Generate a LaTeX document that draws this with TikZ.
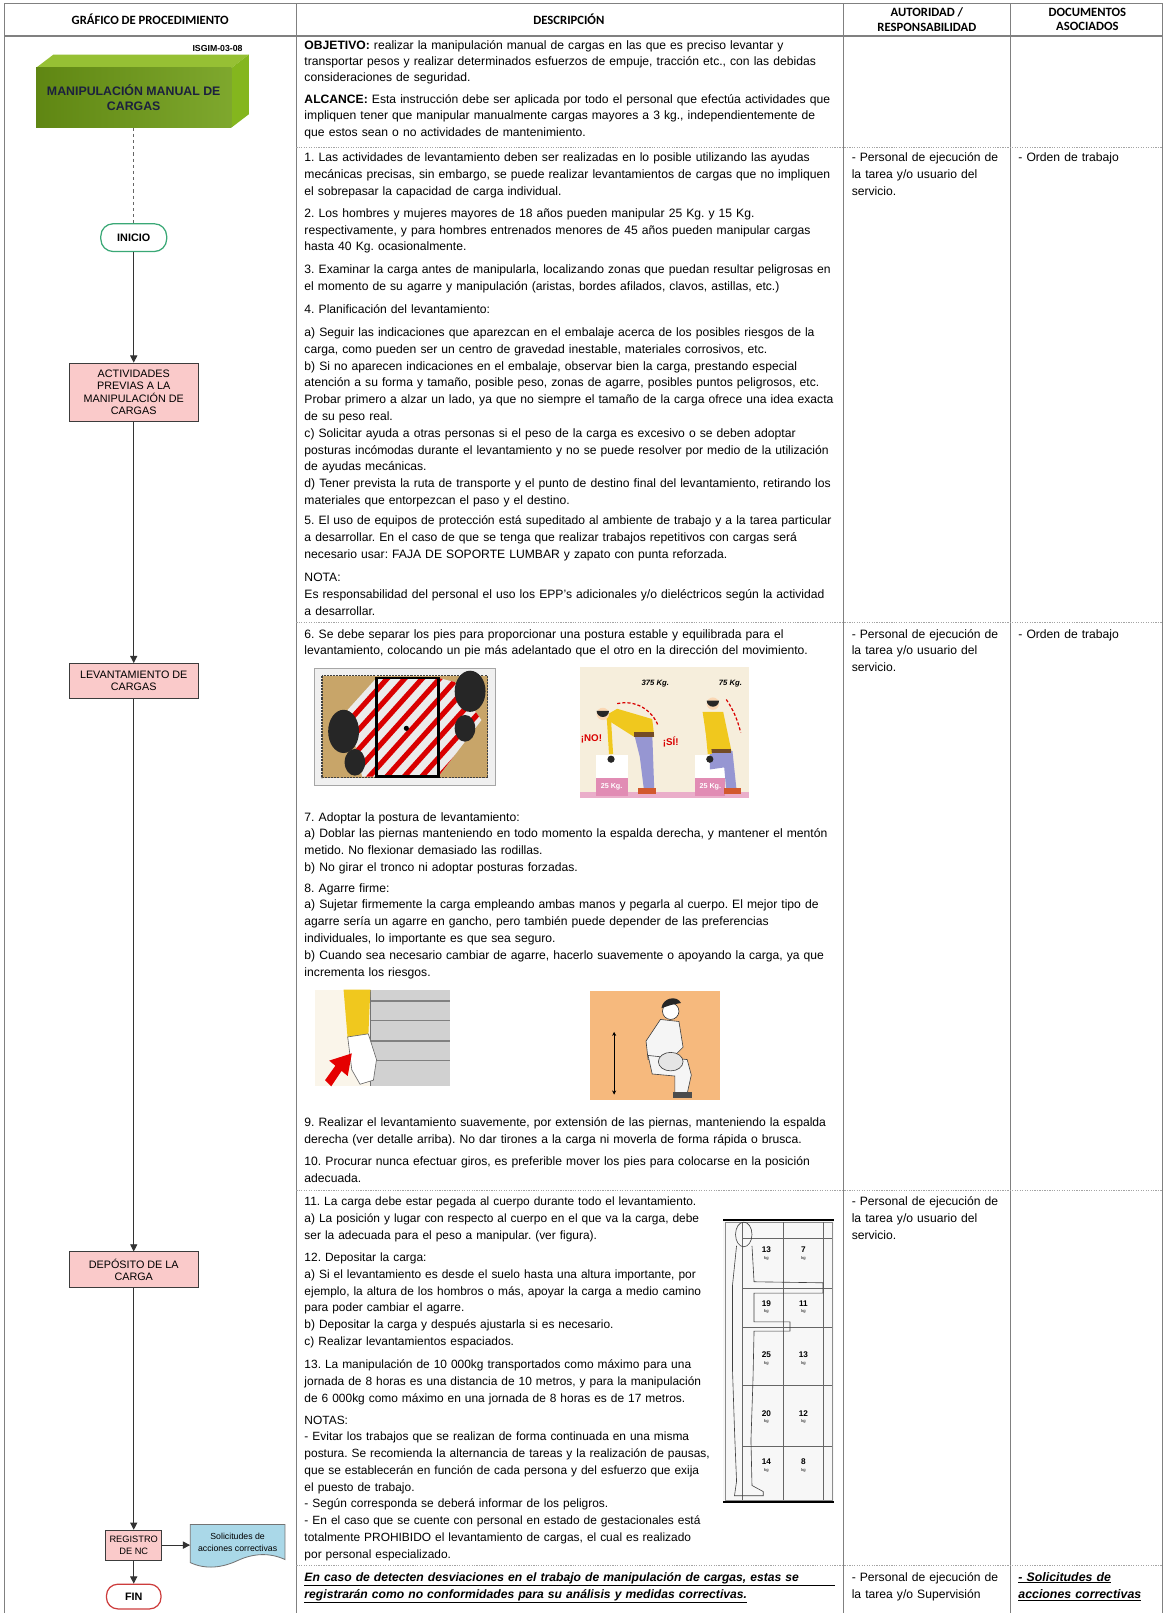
\documentclass[tikz,border=0pt]{standalone}
\usepackage{fontspec}
\setmainfont{Liberation Sans}
\newfontfamily\hdrfont{Carlito}
\usetikzlibrary{arrows.meta}
\definecolor{tblc}{RGB}{128,128,128}
\definecolor{sepc}{RGB}{165,165,165}
\definecolor{pinkf}{RGB}{250,202,202}
\definecolor{boxd}{RGB}{60,60,60}
\definecolor{gfront}{RGB}{112,158,22}
\definecolor{gtop}{RGB}{150,192,52}
\definecolor{gside}{RGB}{132,182,30}
\definecolor{navy}{RGB}{28,32,62}
\definecolor{inig}{RGB}{58,168,118}
\definecolor{finr}{RGB}{205,60,60}
\definecolor{docb}{RGB}{170,216,232}
\definecolor{tanc}{RGB}{200,165,105}
\definecolor{creamc}{RGB}{246,238,220}
\definecolor{shirt}{RGB}{240,200,30}
\definecolor{pants}{RGB}{150,150,210}
\definecolor{kgpink}{RGB}{225,140,180}
\definecolor{peach}{RGB}{246,185,125}
\definecolor{skin}{RGB}{250,215,180}
\newcommand\bodyf{\fontsize{11.8}{16.3}\selectfont\frenchspacing}
\newcommand\narrf{\fontsize{11.6}{16.3}\selectfont\frenchspacing}
\newcommand\JL[1]{\par\noindent\hbox to\hsize{\rule{0pt}{11pt}#1}\par}
\newcommand\RL[1]{\par\noindent\hbox{\rule{0pt}{11pt}#1}\par}
\newcommand\UL[1]{\par\noindent\hbox{\rule{0pt}{11pt}$\underline{\hbox{#1}}$}\par}
\newcommand\UJL[1]{\par\noindent\hbox{\rule{0pt}{11pt}$\underline{\hbox to\hsize{#1}}$}\par}
\begin{document}
\frenchspacing
\begin{tikzpicture}[x=1pt,y=-1pt,
  tbl/.style={draw=tblc, line width=1pt},
  rowsep/.style={draw=sepc, line width=0.8pt, dash pattern=on 1.2pt off 1.2pt},
  txt/.style={anchor=north west, inner sep=0pt, outer sep=0pt, font=\bodyf, text width=516pt},
  txtn/.style={txt, font=\narrf, text width=396pt},
  side/.style={txt, text width=150pt},
  hdr/.style={font=\hdrfont\bfseries\fontsize{12.3}{14}\selectfont, align=center, inner sep=0pt},
  proc/.style={draw=boxd, fill=pinkf, line width=0.9pt, align=center, font=\fontsize{10.5}{12}\selectfont, inner sep=0pt},
  term/.style={rounded corners=12pt, draw, line width=1.2pt, fill=white, font=\bfseries\fontsize{10.5}{12}\selectfont, inner sep=0pt},
  arr/.style={draw=black!80, line width=0.9pt, -{Triangle[length=7pt,width=7pt]}},
  pic/.style={inner sep=0pt}]
\useasboundingbox (0,0) rectangle (1133,1568);
\fill[white] (0,0) rectangle (1133,1568);

% ---------------- table frame
\draw[tbl] (4,1575) -- (4,3) -- (1130,3) -- (1130,1575);
\draw[tbl] (4,35) -- (1130,35);
\draw[tbl] (288,3) -- (288,1575);
\draw[tbl] (820,3) -- (820,1575);
\draw[tbl] (982,3) -- (982,1575);
\draw[rowsep] (288,143) -- (1130,143);
\draw[rowsep] (288,605) -- (1130,605);
\draw[rowsep] (288,1157) -- (1130,1157);
\draw[rowsep] (288,1522) -- (1130,1522);

% headers
\node[hdr] (h1) at (146,19) {GRÁFICO DE PROCEDIMIENTO};
\node[hdr] (h2) at (553,19) {DESCRIPCIÓN};
\node[hdr] (h3) at (901,19) {AUTORIDAD /\\RESPONSABILIDAD};
\node[hdr] (h4) at (1057,19) {DOCUMENTOS\\ASOCIADOS};

\begin{scope}[yshift=4pt]
% ---------------- description texts
\node[txt, font=\fontsize{11.8}{15.7}\selectfont] (t0a) at (296,36) {\JL{\textbf{OBJETIVO:} realizar la manipulación manual de cargas en las que es preciso levantar y}\JL{transportar pesos y realizar determinados esfuerzos de empuje, tracción etc., con las debidas}\RL{consideraciones de seguridad.}};
\node[txt] (t0b) at (296,88) {\JL{\textbf{ALCANCE:} Esta instrucción debe ser aplicada por todo el personal que efectúa actividades que}\JL{impliquen tener que manipular manualmente cargas mayores a 3 kg., independientemente de}\RL{que estos sean o no actividades de mantenimiento.}};

\node[txt] (t1) at (296,145) {\JL{1. Las actividades de levantamiento deben ser realizadas en lo posible utilizando las ayudas}\JL{mecánicas precisas, sin embargo, se puede realizar levantamientos de cargas que no impliquen}\RL{el sobrepasar la capacidad de carga individual.}};
\node[txt] (t2) at (296,199) {\JL{2. Los hombres y mujeres mayores de 18 años pueden manipular 25 Kg. y 15 Kg.}\JL{respectivamente, y para hombres entrenados menores de 45 años pueden manipular cargas}\RL{hasta 40 Kg. ocasionalmente.}};
\node[txt] (t3) at (296,254) {\JL{3. Examinar la carga antes de manipularla, localizando zonas que puedan resultar peligrosas en}\RL{el momento de su agarre y manipulación (aristas, bordes afilados, clavos, astillas, etc.)}};
\node[txt] (t4) at (296,292) {\RL{4. Planificación del levantamiento:}};
\node[txt] (t4a) at (296,315) {\JL{a) Seguir las indicaciones que aparezcan en el embalaje acerca de los posibles riesgos de la}\RL{carga, como pueden ser un centro de gravedad inestable, materiales corrosivos, etc.}\JL{b) Si no aparecen indicaciones en el embalaje, observar bien la carga, prestando especial}\JL{atención a su forma y tamaño, posible peso, zonas de agarre, posibles puntos peligrosos, etc.}\JL{Probar primero a alzar un lado, ya que no siempre el tamaño de la carga ofrece una idea exacta}\RL{de su peso real.}\JL{c) Solicitar ayuda a otras personas si el peso de la carga es excesivo o se deben adoptar}\JL{posturas incómodas durante el levantamiento y no se puede resolver por medio de la utilización}\RL{de ayudas mecánicas.}\JL{d) Tener prevista la ruta de transporte y el punto de destino final del levantamiento, retirando los}\RL{materiales que entorpezcan el paso y el destino.}};
\node[txt] (t5) at (296,498) {\JL{5. El uso de equipos de protección está supeditado al ambiente de trabajo y a la tarea particular}\JL{a desarrollar. En el caso de que se tenga que realizar trabajos repetitivos con cargas será}\RL{necesario usar: FAJA DE SOPORTE LUMBAR y zapato con punta reforzada.}};
\node[txt] (tn) at (296,553) {\RL{NOTA:}\JL{Es responsabilidad del personal el uso los EPP's adicionales y/o dieléctricos según la actividad}\RL{a desarrollar.}};

\node[txt] (t6) at (296,608) {\RL{6. Se debe separar los pies para proporcionar una postura estable y equilibrada para el}\RL{levantamiento, colocando un pie más adelantado que el otro en la dirección del movimiento.}};
\node[txt] (t7) at (296,786) {\RL{7. Adoptar la postura de levantamiento:}\RL{a) Doblar las piernas manteniendo en todo momento la espalda derecha, y mantener el mentón}\RL{metido. No flexionar demasiado las rodillas.}\RL{b) No girar el tronco ni adoptar posturas forzadas.}};
\node[txt] (t8) at (296,855) {\RL{8. Agarre firme:}\RL{a) Sujetar firmemente la carga empleando ambas manos y pegarla al cuerpo. El mejor tipo de}\RL{agarre sería un agarre en gancho, pero también puede depender de las preferencias}\RL{individuales, lo importante es que sea seguro.}\RL{b) Cuando sea necesario cambiar de agarre, hacerlo suavemente o apoyando la carga, ya que}\RL{incrementa los riesgos.}};
\node[txt] (t9) at (296,1083) {\RL{9. Realizar el levantamiento suavemente, por extensión de las piernas, manteniendo la espalda}\RL{derecha (ver detalle arriba). No dar tirones a la carga ni moverla de forma rápida o brusca.}};
\node[txt] (t10) at (296,1121) {\RL{10. Procurar nunca efectuar giros, es preferible mover los pies para colocarse en la posición}\RL{adecuada.}};

\node[txtn] (t11) at (296,1160) {\RL{11. La carga debe estar pegada al cuerpo durante todo el levantamiento.}\JL{a) La posición y lugar con respecto al cuerpo en el que va la carga, debe}\RL{ser la adecuada para el peso a manipular. (ver figura).}};
\node[txtn] (t12) at (296,1214) {\RL{12. Depositar la carga:}\JL{a) Si el levantamiento es desde el suelo hasta una altura importante, por}\JL{ejemplo, la altura de los hombros o más, apoyar la carga a medio camino}\RL{para poder cambiar el agarre.}\RL{b) Depositar la carga y después ajustarla si es necesario.}\RL{c) Realizar levantamientos espaciados.}};
\node[txtn] (t13) at (296,1318) {\JL{13. La manipulación de 10 000kg transportados como máximo para una}\JL{jornada de 8 horas es una distancia de 10 metros, y para la manipulación}\RL{de 6 000kg como máximo en una jornada de 8 horas es de 17 metros.}};
\node[txtn] (tns) at (296,1372) {\RL{NOTAS:}\JL{- Evitar los trabajos que se realizan de forma continuada en una misma}\JL{postura. Se recomienda la alternancia de tareas y la realización de pausas,}\JL{que se establecerán en función de cada persona y del esfuerzo que exija}\RL{el puesto de trabajo.}\RL{- Según corresponda se deberá informar de los peligros.}\JL{- En el caso que se cuente con personal en estado de gestacionales está}\JL{totalmente PROHIBIDO el levantamiento de cargas, el cual es realizado}\RL{por personal especializado.}};

\node[txt, font=\fontsize{11.8}{17}\selectfont] (tb) at (296,1524) {\UJL{\bfseries\itshape En caso de detecten desviaciones en el trabajo de manipulación de cargas, estas se}\UL{\bfseries\itshape registrarán como no conformidades para su análisis y medidas correctivas.}};

% authority / documents
\node[side] (a1) at (828,145) {\RL{- Personal de ejecución de}\RL{la tarea y/o usuario del}\RL{servicio.}};
\node[side] (a2) at (828,608) {\RL{- Personal de ejecución de}\RL{la tarea y/o usuario del}\RL{servicio.}};
\node[side] (a3) at (828,1160) {\RL{- Personal de ejecución de}\RL{la tarea y/o usuario del}\RL{servicio.}};
\node[side, font=\fontsize{11.8}{17}\selectfont] (a4) at (828,1524) {\RL{- Personal de ejecución de}\RL{la tarea y/o Supervisión}};
\node[side] (d1) at (990,145) {\RL{- Orden de trabajo}};
\node[side] (d2) at (990,608) {\RL{- Orden de trabajo}};
\node[side, font=\fontsize{12}{17}\selectfont] (d3) at (990,1524) {\UL{\bfseries\itshape - Solicitudes de}\UL{\bfseries\itshape acciones correctivas}};
\end{scope}

% ---------------- flowchart
\node[anchor=east, inner sep=0pt, font=\bfseries\fontsize{8.5}{10}\selectfont] (code) at (236,47) {ISGIM-03-08};
\fill[gtop] (35,66) -- (52,53) -- (242,53) -- (225,66) -- cycle;
\fill[gside] (225,66) -- (242,53) -- (242,111) -- (225,124) -- cycle;
\shade[left color=gfront!85!black, right color=gfront!90!white] (35,66) rectangle (225,124);
\node[inner sep=0pt, minimum width=190pt, minimum height=58pt, align=center, text=navy, font=\bfseries\fontsize{12}{14}\selectfont] (gbox) at (130,95) {MANIPULACIÓN MANUAL DE\\CARGAS};

\node[term, draw=inig, minimum width=64pt, minimum height=27pt] (ini) at (130,231) {INICIO};
\node[proc, minimum width=125pt, minimum height=57pt] (act) at (130,381.5) {ACTIVIDADES\\PREVIAS A LA\\MANIPULACIÓN DE\\CARGAS};
\node[proc, minimum width=125pt, minimum height=34pt] (lev) at (130,662) {LEVANTAMIENTO DE\\CARGAS};
\node[proc, minimum width=125pt, minimum height=35pt] (dep) at (130,1234.5) {DEPÓSITO DE LA\\CARGA};
\node[proc, minimum width=54pt, minimum height=29pt, font=\fontsize{9}{11.5}\selectfont] (reg) at (130,1502) {REGISTRO\\DE NC};
\node[term, draw=finr, rounded corners=11pt, minimum width=53pt, minimum height=24pt] (fin) at (130,1552) {FIN};

\filldraw[fill=docb, draw=black!55, line width=0.8pt] (185,1482) -- (277,1482) -- (277,1516) .. controls (262,1509) and (246,1510) .. (231,1517) .. controls (216,1524) and (200,1526) .. (185,1519) -- cycle;
\node[inner sep=0pt, minimum width=92pt, minimum height=30pt, align=center, font=\fontsize{8.5}{11.5}\selectfont] (sol) at (231,1499) {Solicitudes de\\acciones correctivas};

\draw[draw=black!60, line width=0.9pt, dash pattern=on 3pt off 3pt] (gbox.south) -- (ini.north);
\draw[arr] (ini) -- (act);
\draw[arr] (act) -- (lev);
\draw[arr] (lev) -- (dep);
\draw[arr] (dep) -- (reg);
\draw[arr] (reg) -- (fin);
\draw[arr] (reg.east) -- (reg.east -| sol.west);

% ---------------- image A: feet
\fill[black!6] (306,650) rectangle (481,763);
\draw[black!35, line width=0.6pt] (306,650) rectangle (481,763);
\fill[tanc] (313,657) rectangle (474,756);
\draw[black!75, dash pattern=on 2pt off 1pt, line width=1pt] (313,657) rectangle (474,756);
\begin{scope}
\clip (338,690) -- (366,659) -- (426,659) -- (442,663) -- (468,700) -- (426,755) -- (366,755) -- (352,755) -- cycle;
\fill[black!8] (330,655) rectangle (470,760);
\foreach \k in {0,...,13} \draw[red!85!black, line width=5pt] (230+\k*17,785) -- (360+\k*17,640);
\end{scope}
\draw[black, line width=2.5pt] (366,659) rectangle (426,755);
\fill[black] (395,708) circle (2.5);
\fill[black!85] (334,711) ellipse (15 and 21);
\fill[black!85] (345,741) ellipse (10 and 13);
\fill[black!85] (457,672) ellipse (15 and 20);
\fill[black!85] (452,708) ellipse (10 and 13);

% ---------------- image B: NO / SI
\fill[creamc] (564,648) rectangle (728,776);
\fill[kgpink!70] (564,770) rectangle (728,776);
\node[pic, font=\bfseries\itshape\fontsize{7.5}{8}\selectfont] (k375) at (637,665) {375 Kg.};
\node[pic, font=\bfseries\itshape\fontsize{7.5}{8}\selectfont] (k75) at (710,665) {75 Kg.};
\node[pic, text=red!85!black, font=\bfseries\fontsize{9.5}{10}\selectfont] (no) at (575,718) {¡NO!};
\node[pic, text=red!85!black, font=\bfseries\fontsize{9.5}{10}\selectfont] (si) at (652,721) {¡SÍ!};
% left box and figure
\fill[white] (579,734) rectangle (610,774);
\fill[kgpink] (579,756) rectangle (610,774);
\node[pic, text=white, font=\bfseries\fontsize{7}{8}\selectfont] (kg1) at (594.5,765) {25 Kg.};
\fill[pants] (616,712) -- (634,712) -- (636,768) -- (626,768) -- (622,736) -- cycle;
\fill[brown!70!red] (620,766) rectangle (638,772);
\fill[shirt] (586,697) -- (600,689) -- (634,699) -- (636,716) -- (616,716) -- cycle;
\fill[brown!60!black] (616,712) rectangle (636,716);
\draw[shirt, line width=4pt] (592,700) -- (594,733);
\fill[black!85] (594,738) circle (3.5);
\fill[skin] (586,694) circle (6);
\fill[black!85] (580,691) arc (180:360:6 and -6) -- cycle;
\draw[red!85!black, dash pattern=on 3pt off 2pt, line width=1.2pt] (600,684) .. controls (618,680) and (634,690) .. (640,706);
% right box and figure
\fill[white] (676,734) rectangle (705,774);
\fill[kgpink] (676,756) rectangle (705,774);
\node[pic, text=white, font=\bfseries\fontsize{7}{8}\selectfont] (kg2) at (690.5,765) {25 Kg.};
\fill[pants] (690,728) -- (712,730) -- (716,768) -- (706,768) -- (704,746) -- (690,748) -- cycle;
\fill[brown!70!red] (704,766) rectangle (720,772);
\fill[shirt] (683,692) -- (703,692) -- (711,730) -- (689,732) -- cycle;
\fill[brown!60!black] (690,728) rectangle (711,732);
\draw[shirt, line width=4pt] (687,700) -- (690,733);
\fill[black!85] (690,738) circle (3.5);
\fill[skin] (693,684) circle (6);
\fill[black!85] (687,681) arc (180:360:6 and -6) -- cycle;
\draw[red!85!black, dash pattern=on 3pt off 2pt, line width=1.2pt] (706,680) .. controls (713,690) and (717,700) .. (720,712);

% ---------------- image C: hand
\fill[creamc!60!white] (306,962) rectangle (437,1056);
\fill[black!18] (360,962) rectangle (437,1056);
\foreach \yy in {973,992,1012,1031} \draw[black!50, line width=1.5pt] (360,\yy) -- (437,\yy);
\draw[black!55, line width=0.8pt] (360,962) -- (360,1056);
\fill[shirt] (334,962) -- (360,962) -- (358,1008) -- (338,1010) -- cycle;
\filldraw[fill=white, draw=black!60, line width=0.6pt] (338,1008) -- (358,1005) -- (366,1030) -- (363,1050) -- (350,1054) -- (342,1040) -- cycle;
\fill[red!90!black] (316,1050) -- (326,1036) -- (320,1031) -- (342,1024) -- (338,1046) -- (332,1041) -- (322,1056) -- cycle;

% ---------------- image D: squat
\fill[peach] (574,963) rectangle (700,1069);
\draw[black, line width=0.9pt, {Stealth[length=4pt,width=4pt]}-{Stealth[length=4pt,width=4pt]}] (597,1003) -- (597,1064);
\filldraw[fill=white, draw=black!80, line width=0.6pt] (652,983) circle (8);
\fill[black!85] (643,980) .. controls (644,970) and (658,967) .. (662,975) -- (652,977) -- cycle;
\filldraw[fill=black!4, draw=black!75, line width=0.6pt] (642,991) -- (660,993) -- (664,1018) -- (652,1030) -- (630,1030) -- (628,1012) -- cycle;
\filldraw[fill=black!4, draw=black!75, line width=0.6pt] (630,1026) -- (668,1030) -- (672,1045) -- (668,1063) -- (656,1063) -- (656,1046) -- (634,1044) -- cycle;
\filldraw[fill=black!10, draw=black!75, line width=0.6pt] (652,1032) ellipse (12 and 9);
\fill[black!70] (654,1062) rectangle (673,1067);

% ---------------- image E: body chart
\fill[black!3] (703,1186) rectangle (811,1460);
\draw[black!45, line width=0.5pt] (705,1188) rectangle (809,1458);
\draw[black, line width=1.2pt] (703,1186) -- (811,1186);
\draw[black, line width=1.2pt] (703,1460) -- (811,1460);
\foreach \xx in {722,761,800} \draw[black!60, line width=0.6pt] (\xx,1188) -- (\xx,1458);
\foreach \yy in {1204,1252,1290,1347,1406} \draw[black!60, line width=0.6pt] (722,\yy) -- (809,\yy);
\begin{scope}[black!75, line width=0.6pt]
\draw (723,1200) ellipse (8 and 12);
\draw (716,1211) -- (712,1250) -- (712,1330) -- (714,1390) -- (716,1440) -- (714,1454) -- (742,1454) -- (742,1450) -- (731,1444) -- (730,1400) -- (732,1340) -- (733,1294) -- (768,1294) -- (768,1285) -- (733,1285) -- (733,1257) -- (800,1257) -- (800,1247) -- (733,1246) -- (731,1211);
\end{scope}
\foreach \yy/\a/\b in {1215/13/7,1267/19/11,1317/25/13,1374/20/12,1421/14/8} {
  \node[pic, font=\bfseries\fontsize{8}{9}\selectfont] at (745,\yy) {\a};
  \node[pic, font=\bfseries\fontsize{8}{9}\selectfont] at (781,\yy) {\b};
  \node[pic, font=\fontsize{4}{5}\selectfont] at (745,\yy+8) {kg};
  \node[pic, font=\fontsize{4}{5}\selectfont] at (781,\yy+8) {kg};
}
\end{tikzpicture}
\end{document}
